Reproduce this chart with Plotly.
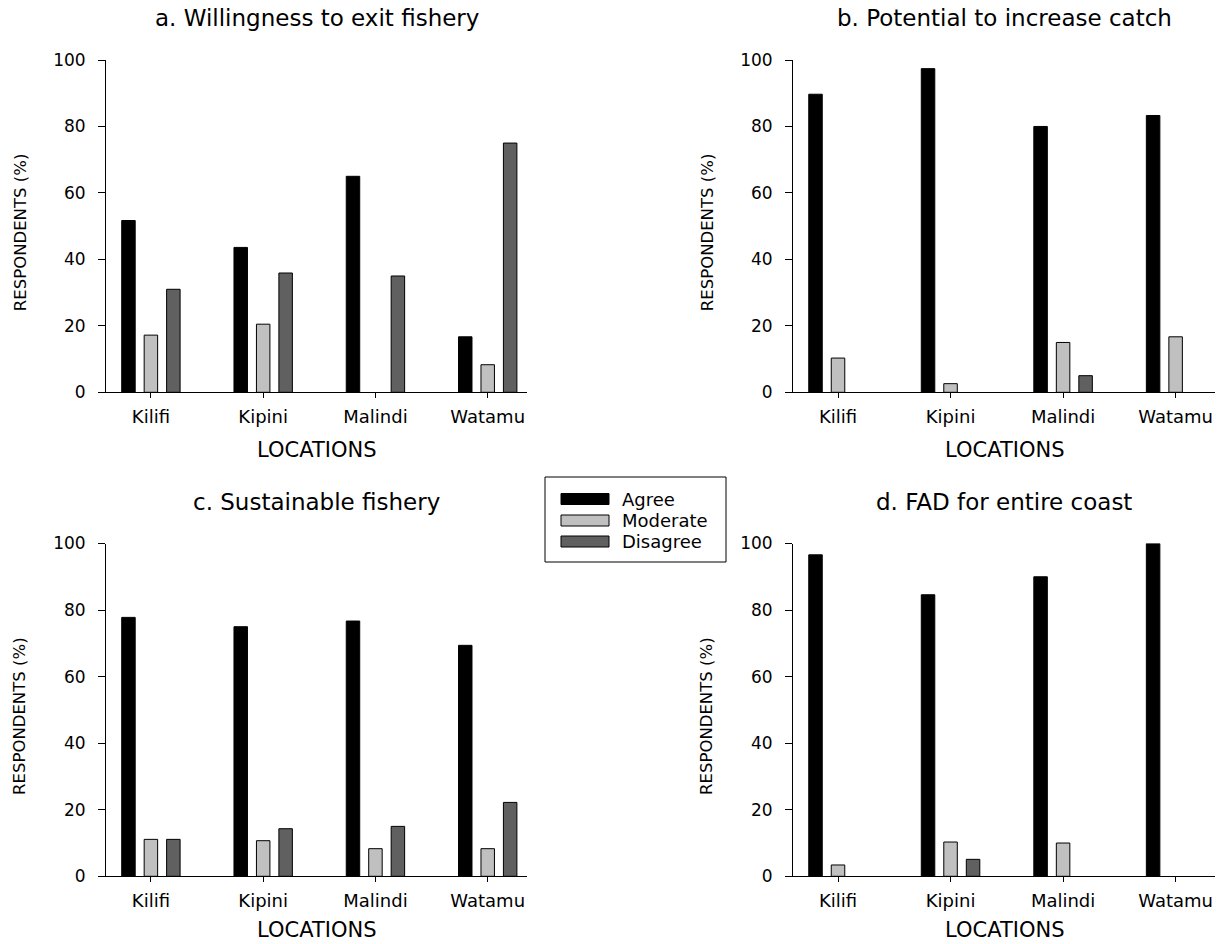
import plotly.graph_objects as go

# ---------------- data ----------------
locations = ["Kilifi", "Kipini", "Malindi", "Watamu"]
series_names = ["Agree", "Moderate", "Disagree"]
series_colors = ["#000000", "#c0c0c0", "#606060"]

a_agree = [51.7, 43.6, 65.0, 16.7]
a_moderate = [17.2, 20.5, None, 8.3]
a_disagree = [31.0, 35.9, 35.0, 75.0]

b_agree = [89.7, 97.4, 80.0, 83.3]
b_moderate = [10.3, 2.6, 15.0, 16.7]
b_disagree = [None, None, 5.0, None]

c_agree = [77.8, 75.0, 76.7, 69.4]
c_moderate = [11.1, 10.7, 8.3, 8.3]
c_disagree = [11.1, 14.3, 15.0, 22.2]

d_agree = [96.6, 84.6, 90.0, 100.0]
d_moderate = [3.4, 10.3, 10.0, None]
d_disagree = [None, 5.1, None, None]

panel_titles = ["a. Willingness to exit fishery", "b. Potential to increase catch",
                "c. Sustainable fishery", "d. FAD for entire coast"]
x_title = "LOCATIONS"
y_title = "RESPONDENTS (%)"
y_ticks = [0, 20, 40, 60, 80, 100]

panels = [
    [a_agree, a_moderate, a_disagree],
    [b_agree, b_moderate, b_disagree],
    [c_agree, c_moderate, c_disagree],
    [d_agree, d_moderate, d_disagree],
]

# ---------------- layout geometry (pixels) ----------------
W, H = 1219, 944
FONT = "DejaVu Sans"


def px(X):
    return X / W


def py(Y):
    return 1 - Y / H


boxes = [
    (106, 527, 60, 392.3),
    (793, 1215, 60, 392.3),
    (106, 527, 543.5, 876.3),
    (793, 1215, 543.5, 876.3),
]

fig = go.Figure()
layout = dict(
    width=W, height=H,
    margin=dict(l=0, r=0, t=0, b=0, autoexpand=False),
    paper_bgcolor="white", plot_bgcolor="white",
    barmode="group", bargap=0.4, bargroupgap=0.4,
    showlegend=False,
    font=dict(family=FONT, color="black", size=17),
)

annotations = []
shapes = []

for i, (vals, box) in enumerate(zip(panels, boxes)):
    n = "" if i == 0 else str(i + 1)
    xa, ya = "x" + n, "y" + n
    for name, color, v in zip(series_names, series_colors, vals):
        fig.add_trace(go.Bar(
            x=locations, y=v, name=name, xaxis=xa, yaxis=ya,
            marker=dict(color=color, line=dict(color="black", width=1)),
        ))
    x0, x1, yt, yb = box
    layout["xaxis" + n] = dict(
        domain=[px(x0), px(x1)], anchor=ya, type="category",
        categoryorder="array", categoryarray=locations,
        range=[-0.4, 3.35], showgrid=False, zeroline=False,
        showline=True, linecolor="black", linewidth=1,
        ticks="outside", ticklen=5, tickcolor="black", tickwidth=1,
        tickfont=dict(family=FONT, size=18, color="black"),
        ticklabelstandoff=3,
    )
    layout["yaxis" + n] = dict(
        domain=[py(yb), py(yt)], anchor=xa,
        range=[0, 100], tickvals=y_ticks, showgrid=False, zeroline=False,
        showline=True, linecolor="black", linewidth=1,
        ticks="outside", ticklen=7, tickcolor="black", tickwidth=1,
        tickfont=dict(family=FONT, size=17, color="black"),
        ticklabelstandoff=9,
    )
    cx = (x0 + x1) / 2
    annotations.append(dict(
        text=panel_titles[i], x=px(cx), y=py(yt - 41.5), xref="paper", yref="paper",
        showarrow=False, xanchor="center", yanchor="middle",
        font=dict(family=FONT, size=23, color="black"),
    ))
    if i < 2:
        annotations.append(dict(
            text=x_title, x=px(cx), y=py(yb + 58), xref="paper", yref="paper",
            showarrow=False, xanchor="center", yanchor="middle",
            font=dict(family=FONT, size=21, color="black"),
        ))
    else:
        annotations.append(dict(
            text=x_title, x=px(cx), y=0, xref="paper", yref="paper",
            showarrow=False, xanchor="center", yanchor="bottom",
            font=dict(family=FONT, size=21, color="black"),
        ))
    annotations.append(dict(
        text=y_title, x=px(x0 - 86), y=py((yt + yb) / 2 + 7), xref="paper", yref="paper",
        showarrow=False, xanchor="center", yanchor="middle", textangle=-90,
        font=dict(family=FONT, size=16.5, color="black"),
    ))

# ---------------- legend box ----------------
shapes.append(dict(type="rect", xref="paper", yref="paper",
                   x0=px(545), x1=px(726), y0=py(562), y1=py(477),
                   line=dict(color="black", width=1), fillcolor="white"))
leg_y = [499, 520.5, 541.5]
for name, color, yy in zip(series_names, series_colors, leg_y):
    shapes.append(dict(type="rect", xref="paper", yref="paper",
                       x0=px(561), x1=px(609), y0=py(yy + 5.5), y1=py(yy - 5.5),
                       line=dict(color="black", width=1), fillcolor=color))
    annotations.append(dict(
        text=name, x=px(620), y=py(yy), xref="paper", yref="paper",
        showarrow=False, xanchor="left", yanchor="middle",
        font=dict(family=FONT, size=18, color="black"),
    ))

layout["annotations"] = annotations
layout["shapes"] = shapes
fig.update_layout(**layout)

fig.write_html("out.html", config={"displayModeBar": False},
               post_script="document.body.style.margin='0px';")
